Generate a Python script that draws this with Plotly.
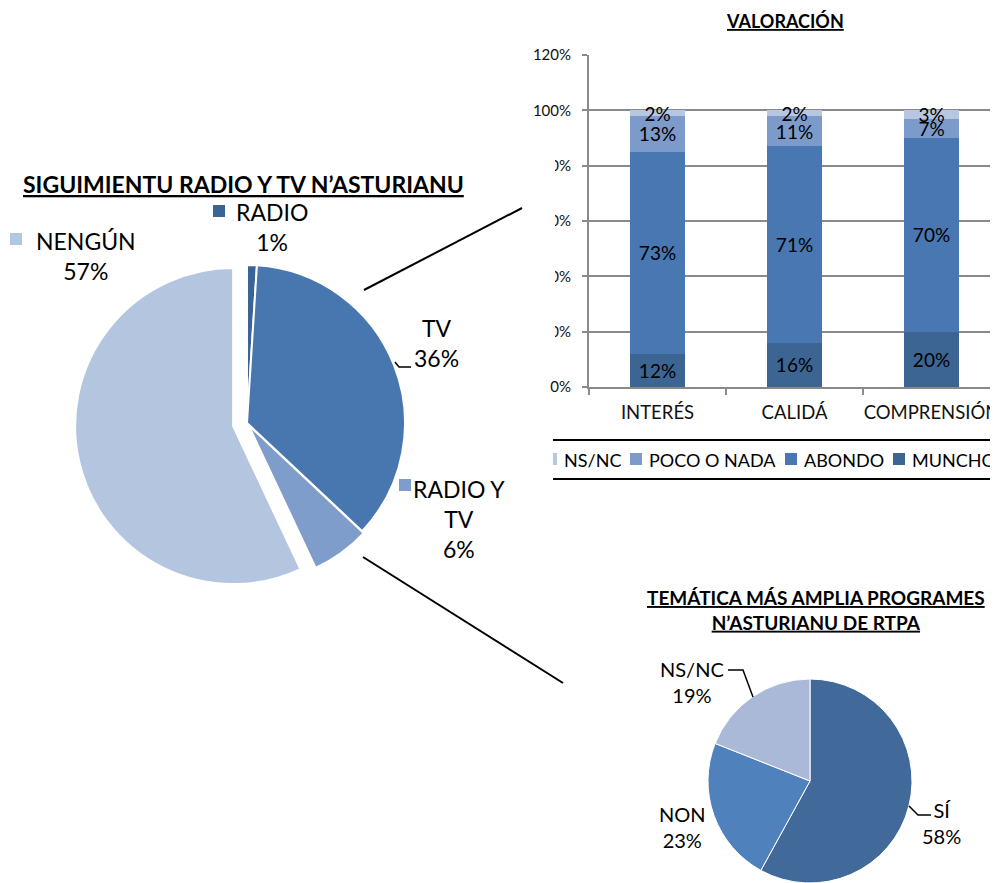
import plotly.graph_objects as go

W, H = 998, 883
OFF = 8  # page body margin of the rendered html


def px(x):
    return (x - OFF) / W


def py(y):
    return 1 - (y - OFF) / H


FONT = "Lato"

# ---------------- data ----------------
# Left pie: SIGUIMIENTU RADIO Y TV N'ASTURIANU
follow_labels = ["RADIO", "TV", "RADIO Y TV", "NENGÚN"]
follow_values = [1, 36, 6, 57]
follow_colors = ["#3b6496", "#4877b0", "#7f9dca", "#b4c5e0"]

# Stacked bars: VALORACIÓN
val_categories = ["INTERÉS", "CALIDÁ", "COMPRENSIÓN"]
val_muncho = [12, 16, 20]
val_abondo = [73, 71, 70]
val_poco = [13, 11, 7]
val_nsnc = [2, 2, 3]
val_series = ["MUNCHO", "ABONDO", "POCO O NADA", "NS/NC"]
val_colors = ["#3c6594", "#4877b1", "#7c9bcb", "#b7c7e2"]
y_ticks = [0, 20, 40, 60, 80, 100, 120]

# Right pie: TEMÁTICA MÁS AMPLIA PROGRAMES N'ASTURIANU DE RTPA
tema_labels = ["SÍ", "NON", "NS/NC"]
tema_values = [58, 23, 19]
tema_colors = ["#416a9b", "#4f81bd", "#a9b9d7"]

# ---------------- figure ----------------
fig = go.Figure()

# left pie (exploded slices)
follow_pull = [0.0, 0.0, 0.015, 0.09]
r1 = 158
cx1, cy1 = 247, 423
half = r1 * (1 + max(follow_pull))
fig.add_trace(go.Pie(
    labels=follow_labels, values=follow_values, sort=False,
    direction="clockwise", rotation=0, pull=follow_pull,
    marker=dict(colors=follow_colors, line=dict(color="white", width=2)),
    textinfo="none", showlegend=False,
    domain=dict(x=[px(cx1 - half), px(cx1 + half)],
                y=[py(cy1 + half), py(cy1 - half)]),
))

# stacked bars
for name, vals, col in zip(val_series, [val_muncho, val_abondo, val_poco, val_nsnc], val_colors):
    fig.add_trace(go.Bar(
        x=val_categories, y=vals, name=name, marker=dict(color=col, line=dict(width=0)),
        text=[f"{v}%" for v in vals], textposition="inside", insidetextanchor="middle",
        textangle=0, constraintext="none",
        textfont=dict(family=FONT, size=19, color="black"),
        cliponaxis=False, showlegend=False,
    ))

# right pie
fig.add_trace(go.Pie(
    labels=tema_labels, values=tema_values, sort=False,
    direction="clockwise", rotation=0,
    marker=dict(colors=tema_colors, line=dict(color="white", width=1)),
    textinfo="none", showlegend=False,
    domain=dict(x=[px(708), px(912)], y=[max(0, py(883)), py(679)]),
))

shapes = []
annotations = []


def ann(text, x, y, size, bold=False, underline=False, color="black", xanchor="center"):
    t = text
    if underline:
        t = f"<u>{t}</u>"
    if bold:
        t = f"<b>{t}</b>"
    annotations.append(dict(text=t, x=px(x), y=py(y), xref="paper", yref="paper",
                            xanchor=xanchor, yanchor="middle", showarrow=False,
                            align="center", font=dict(family=FONT, size=size, color=color)))


def rect(x0, y0, x1, y1, fill, line_color=None, line_width=0):
    shapes.append(dict(type="rect", xref="paper", yref="paper", x0=px(x0), x1=px(x1),
                       y0=py(y1), y1=py(y0), fillcolor=fill,
                       line=dict(width=line_width, color=line_color or "rgba(0,0,0,0)"),
                       layer="above"))


# legend of the bar chart (box, keys and labels)
rect(540, 440, 996, 479, "rgba(0,0,0,0)", "black", 2)
leg_key_x = [545, 630, 785, 893]
leg_names = val_series[::-1]
leg_colors = val_colors[::-1]
for kx, name, col in zip(leg_key_x, leg_names, leg_colors):
    rect(kx, 453, kx + 12, 465, col)
    ann(name, kx + 17, 460, 18, xanchor="left")

# white masks that hide part of the bar chart's left labels / legend box
rect(500, 135, 555, 350, "white")
rect(500, 430, 553, 492, "white")

# connector lines
for (x0, y0, x1, y1) in [(364, 290, 522, 208), (363, 557, 563, 683)]:
    shapes.append(dict(type="line", xref="paper", yref="paper", x0=px(x0), y0=py(y0),
                       x1=px(x1), y1=py(y1), line=dict(color="black", width=2), layer="above"))


def path(points):
    return "M " + " L ".join(f"{px(x)} {py(y)}" for x, y in points)


# leader lines
for pts in [[(395, 362), (399, 367), (411, 367)],
            [(728, 670), (743, 670), (753, 697)],
            [(909, 806), (918, 815), (931, 815)]]:
    shapes.append(dict(type="path", xref="paper", yref="paper", path=path(pts),
                       line=dict(color="black", width=1.5), layer="above"))

# legend keys on the left pie labels
for (x0, y0), col in zip([(213, 205), (10, 233), (399, 479)],
                         [follow_colors[0], follow_colors[3], follow_colors[2]]):
    rect(x0, y0, x0 + 12, y0 + 12, col)

ann("SIGUIMIENTU RADIO Y TV N’ASTURIANU", 243, 184, 23, bold=True, underline=True)
ann("VALORACIÓN", 785, 21, 18, bold=True, underline=True)
ann("TEMÁTICA MÁS AMPLIA PROGRAMES<br>N’ASTURIANU DE RTPA", 816, 610, 19, bold=True, underline=True)

# left pie labels
wrap = {"RADIO Y TV": "RADIO Y<br>TV"}
left_pos = [(272, 227), (436, 343), (459, 519), (86, 256)]
for lab, v, (x, y) in zip(follow_labels, follow_values, left_pos):
    ann(f"{wrap.get(lab, lab)}<br>{v}%", x, y, 23)

# right pie labels
right_pos = [(941, 823), (682, 827), (692, 682)]
for lab, v, (x, y) in zip(tema_labels, tema_values, right_pos):
    ann(f"{lab}<br>{v}%", x, y, 20)

GRID = "#8a8a8a"
fig.update_layout(
    width=W, height=H, margin=dict(l=0, r=0, t=0, b=0, autoexpand=False),
    paper_bgcolor="white", plot_bgcolor="white",
    barmode="stack", bargap=0.6,
    font=dict(family=FONT, color="black"),
    showlegend=False,
    xaxis=dict(domain=[px(589), px(1000)], range=[-0.5, 2.5], showline=True, linecolor=GRID,
               linewidth=2, ticks="outside", tickson="boundaries", ticklen=6,
               tickcolor=GRID, tickwidth=2, tickangle=0, ticklabelstandoff=8,
               tickfont=dict(family=FONT, size=18.5, color="#111"),
               showgrid=False, fixedrange=True),
    yaxis=dict(domain=[py(387), py(55)], range=[0, 120], tickvals=y_ticks,
               ticktext=[f"{t}%" for t in y_ticks], showline=True, linecolor=GRID,
               linewidth=2, ticks="outside", ticklen=5, tickcolor=GRID, tickwidth=2,
               ticklabelstandoff=8,
               showgrid=True, gridcolor=GRID, gridwidth=2, zeroline=False,
               tickfont=dict(family=FONT, size=15, color="#111"), fixedrange=True),
    shapes=shapes, annotations=annotations,
)

fig.write_html("out.html")
